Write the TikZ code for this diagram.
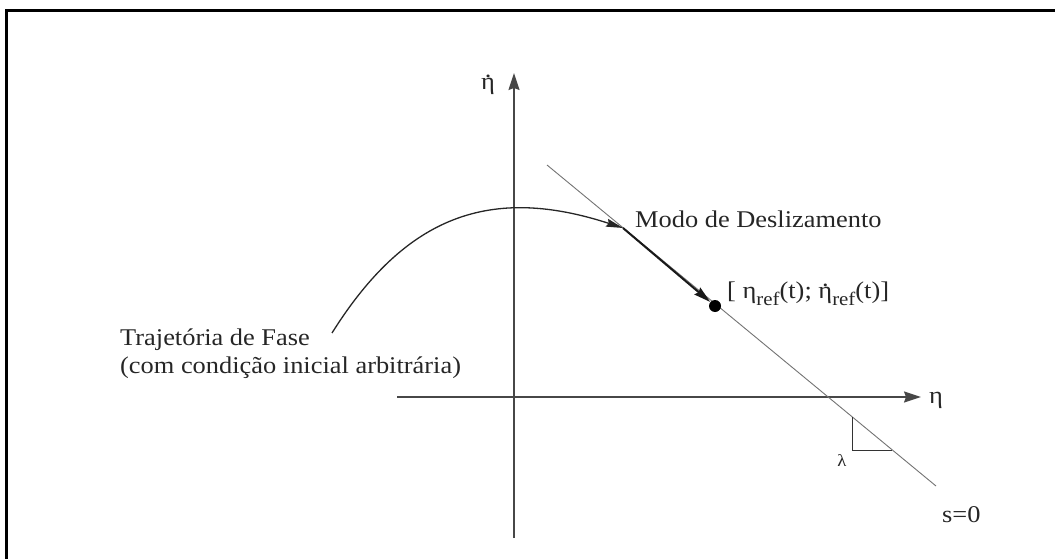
\documentclass[tikz,border=0pt]{standalone}
\usepackage{fontspec}
\setmainfont{Liberation Serif}[FakeStretch=1.1]
\usetikzlibrary{arrows.meta}
\newcommand\etadot{\ooalign{η\cr\hidewidth\raisebox{0.5em}{.}\hidewidth\cr}}
\newcommand\subref[1]{\raisebox{-0.3em}{\fontsize{19}{20}\selectfont #1}}
\begin{document}
\begin{tikzpicture}[x=1pt,y=-1pt,
  lbl/.style={font=\fontsize{24}{28}\selectfont, inner sep=0pt, text=black!85},
  axis/.style={line width=1.4pt, draw=black!72, -{Stealth[length=17pt,width=11pt,inset=2pt]}},
  sline/.style={line width=0.9pt, draw=black!55},
  traj/.style={line width=1.3pt, draw=black!85, -{Stealth[length=17pt,width=8pt,inset=2pt]}},
  smode/.style={line width=2pt, draw=black!90, -{Stealth[length=17pt,width=9pt,inset=2pt]}},
  thinl/.style={line width=1pt, draw=black!80},
  frame/.style={line width=3pt, draw=black, line join=miter}
]
\useasboundingbox (0,0) rectangle (1055,559);
% frame (only left and top edges visible)
\coordinate (f1) at (6.5,559);
\coordinate (f2) at (6.5,10.5);
\coordinate (f3) at (1055,10.5);
\draw[frame] (f1) -- (f2) -- (f3);

% axes
\coordinate (xa) at (397,397);
\coordinate (xb) at (921,397);
\coordinate (ya) at (514,538);
\coordinate (yb) at (514,73);
\draw[axis] (xa) -- (xb);
\draw[axis] (ya) -- (yb);
\node[lbl, anchor=base west] (etax) at (929,403) {η};
\node[lbl, anchor=base west] (etay) at (481,90) {\etadot};

% sliding surface s=0
\coordinate (s1) at (547,165);
\coordinate (s2) at (936,486);
\draw[sline] (s1) -- (s2);
\node[lbl, anchor=base west] (s0) at (942,522) {s=0};

% slope triangle
\coordinate (t1) at (852,417);
\coordinate (t2) at (852,450);
\coordinate (t3) at (892,450);
\draw[thinl] (t1) -- (t2) -- (t3);
\node[font=\fontsize{17}{20}\selectfont, inner sep=0pt, text=black!85] (lam) at (842,461) {λ};

% reference point
\node[circle, fill=black, inner sep=0pt, minimum size=12pt] (pt) at (715,306) {};
\node[lbl, anchor=base west] (ref) at (727,298) {[ η\subref{ref}(t); \etadot\subref{ref}(t)]};

% phase trajectory
\coordinate (c0) at (332,333);
\coordinate (c1) at (623,228);
\draw[traj] (c0) .. controls (406,215) and (491,185) .. (c1);
\draw[smode] (c1) -- (pt);

\node[lbl, anchor=base west] (modo) at (635,227) {Modo de Deslizamento};
\node[lbl, anchor=base west] (traj1) at (120,345) {Trajetória de Fase};
\node[lbl, anchor=base west] (traj2) at (120,373) {(com condição inicial arbitrária)};
\end{tikzpicture}
\end{document}
